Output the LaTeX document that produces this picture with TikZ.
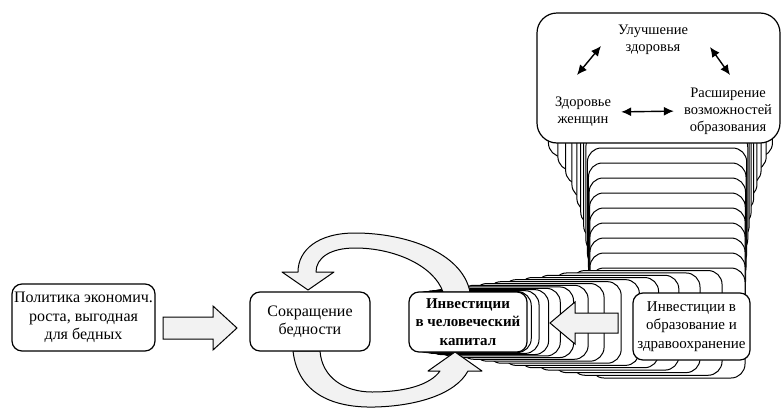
\documentclass[tikz,border=0pt]{standalone}
\usepackage{fontspec}
\setmainfont{Liberation Serif}
\usetikzlibrary{arrows.meta, positioning}

\tikzset{
  box/.style={draw, line width=1.2pt, fill=white, rounded corners=10pt,
    align=center, inner sep=1pt, font=\fontsize{16}{18.5}\selectfont},
  trail/.style={draw, line width=1pt, fill=white, rounded corners=14pt},
  fatarrow/.style={draw, line width=1pt, fill=gray!10, line join=miter},
  looparrow/.style={draw, line width=1pt, fill=gray!10, line join=round},
  plain/.style={align=center, inner sep=2pt, font=\fontsize{14.5}{17}\selectfont},
  dblarrow/.style={line width=1.4pt,
    {Latex[length=10pt,width=9pt]}-{Latex[length=10pt,width=9pt]}}
}

\begin{document}
\begin{tikzpicture}[x=1pt, y=-1pt]
    \useasboundingbox (0,0) rectangle (782,410);

    % Trail of boxes: from the top panel down...
    \foreach \i in {1,...,17}{
      \pgfmathsetmacro{\s}{\i/17}
      \pgfmathsetmacro{\f}{1-(1-\s)^4}
      \pgfmathsetmacro{\L}{537+53*\f}
      \pgfmathsetmacro{\R}{780-35*\f}
      \pgfmathsetmacro{\T}{13+255*\s}
      \pgfmathsetmacro{\B}{143+235*\s}
      \draw[trail] (\L,\T) rectangle (\R,\B);
    }
    % ... and then to the left, behind the human capital box
    \foreach \i in {1,...,13}{
      \pgfmathsetmacro{\g}{1-(1-\i/14)^1.5}
      \pgfmathsetmacro{\L}{590-181*\g}
      \pgfmathsetmacro{\R}{745-218*\g}
      \pgfmathsetmacro{\T}{268+24*\g}
      \pgfmathsetmacro{\B}{378-26*\g}
      \draw[trail] (\L,\T) rectangle (\R,\B);
    }

    % The top panel
    \draw[line width=1.2pt, fill=white, rounded corners=20pt] (537,13) rectangle (780,143);
    \node[plain] (uluch) at (653,40) {Улучшение\\здоровья};
    \node[plain] (zhen) at (583,112) {Здоровье\\женщин};
    \node[plain] (rassh) at (728,111) {Расширение\\возможностей\\образования};
    \coordinate (ul-l) at (601,46);
    \coordinate (zh-u) at (577,75);
    \coordinate (ul-r) at (710,47);
    \coordinate (ra-u) at (730,75);
    \draw[dblarrow] (zh-u) -- (ul-l);
    \draw[dblarrow] (ul-r) -- (ra-u);
    \draw[dblarrow, shorten <=8pt, shorten >=8pt] (zhen.east) -- (rassh.west);

    % Loop arrows between the two middle boxes
    \draw[looparrow] (470,292) .. controls (462,252) and (405,233) .. (355,233)
      .. controls (318,233) and (298,250) .. (298,272) -- (282,272) -- (308,290)
      -- (334,272) -- (316,272) .. controls (316,258) and (330,248) .. (355,248)
      .. controls (395,248) and (434,266) .. (443,292) -- cycle;
    \draw[looparrow] (293,351) .. controls (298,395) and (335,408) .. (375,407)
      .. controls (415,406) and (455,395) .. (468,371) -- (482,371) -- (455,352)
      -- (428,371) -- (440,371) .. controls (430,385) and (405,392) .. (372,392)
      .. controls (345,392) and (322,378) .. (320,351) -- cycle;

    % Boxes
    \node[box, minimum width=143pt, minimum height=67pt] (politika) at (83.5,317.5)
      {Политика экономич.\\роста, выгодная\\для бедных};
    \node[box, minimum width=120pt, minimum height=59pt] (sokr) at (310,321.5)
      {Сокращение\\бедности};
    \node[box, minimum width=118pt, minimum height=60pt,
      font=\bfseries\fontsize{15}{18.5}\selectfont]
      (invchel) at (468,322) {Инвестиции\\в человеческий\\капитал};
    \node[box, minimum width=117pt, minimum height=67pt,
      font=\fontsize{15}{18.5}\selectfont] (invobr) at (691.5,326.5)
      {Инвестиции в\\образование и\\здравоохранение};

    % Block arrows
    \draw[fatarrow] (163,317) -- (213,317) -- (213,306) -- (237,328) -- (213,350)
      -- (213,339) -- (163,339) -- cycle;
    \draw[fatarrow] (618,313) -- (575,313) -- (575,302) -- (550,323) -- (575,344)
      -- (575,333) -- (618,333) -- cycle;

\end{tikzpicture}
\end{document}
